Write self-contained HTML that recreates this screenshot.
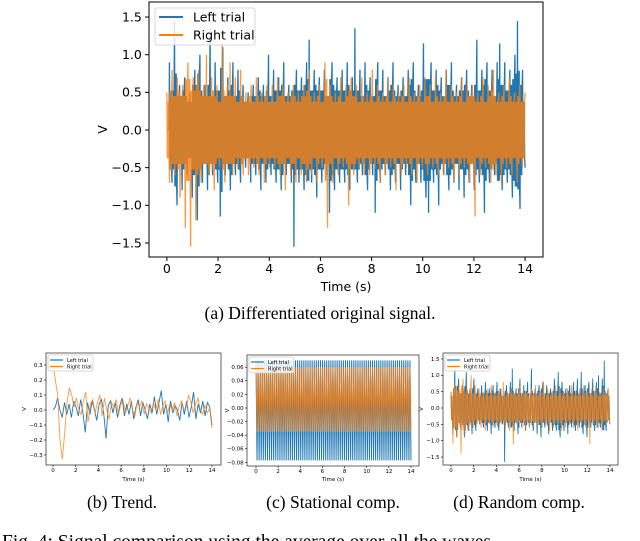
<!DOCTYPE html>
<html><head><meta charset="utf-8"><style>
body{margin:0;background:#fff;width:640px;height:541px;overflow:hidden}
svg{display:block}
.cap{font-family:"Liberation Serif",serif;fill:#000}
.tk{font-family:"DejaVu Sans","Liberation Sans",sans-serif;fill:#000}
</style></head><body>
<svg id="fig" width="640" height="541" viewBox="0 0 640 541" xmlns="http://www.w3.org/2000/svg">
<text class="cap" x="320" y="319" font-size="17.5" text-anchor="middle">(a) Differentiated original signal.</text>
<text class="cap" x="122" y="508" font-size="17.5" text-anchor="middle">(b) Trend.</text>
<text class="cap" x="333" y="508" font-size="17.5" text-anchor="middle">(c) Stational comp.</text>
<text class="cap" x="519" y="508" font-size="17.5" text-anchor="middle">(d) Random comp.</text>
<text class="cap" x="2" y="548" font-size="19.5">Fig. 4: Signal comparison using the average over all the waves</text>
</svg>
<script>
// main chart data
const mainBlue=[0,0.9,-0.7,1.45,-1.0,0.6,-0.8,0.7,-0.6,0.5,-0.9,0.8,-1.2,1.0,-0.7,0.6,-0.8,1.35,-0.6,0.9,-0.7,-1.15,1.1,-0.6,0.7,-0.8,0.9,-0.6,0.8,-0.7,0.6,-0.5,0.5,-0.7,0.6,-0.6,0.7,-0.8,0.6,-0.7,1.0,-0.6,0.8,-0.7,0.7,-0.8,0.9,-0.6,0.6,-0.7,-1.55,0.8,-0.7,0.7,-0.8,0.9,1.2,-0.7,0.8,-0.9,0.7,-0.7,0.8,-0.6,-1.1,0.9,-0.8,0.7,-0.7,0.8,-0.7,0.9,-0.8,0.7,1.35,-0.7,0.8,-0.6,0.9,-0.8,0.7,-0.6,-1.1,0.9,-0.7,0.8,-0.6,0.7,-0.8,0.9,-0.7,0.6,-0.8,0.7,-0.6,0.8,-1.0,0.9,-0.7,0.6,-0.7,1.15,-0.9,-1.1,0.9,-0.7,0.8,-1.0,0.7,-0.6,0.8,-0.8,0.9,-0.7,0.6,-0.8,0.7,-0.9,0.8,-0.7,0.6,-0.8,1.2,-0.7,0.8,-1.1,0.9,-0.7,0.8,-0.6,0.9,1.15,-0.8,0.9,-0.7,0.8,-0.9,1.0,1.45,-1.05,0.8,-0.5];
const mainOrange=[0.5,-0.7,0.8,-0.6,0.7,-0.9,0.6,-1.3,0.9,-1.55,0.7,-1.2,0.8,-0.7,0.6,1.0,-0.6,0.7,-0.8,0.6,-0.5,1.15,-0.7,0.6,0.9,-0.6,0.7,-0.5,0.8,-0.6,0.5,-0.6,0.6,-0.5,0.7,-0.6,0.5,-0.7,0.6,-0.5,0.6,-0.5,0.7,-0.6,0.6,-0.8,0.5,-0.6,0.6,-0.7,0.5,-0.6,0.6,-0.7,0.8,-0.6,0.5,-0.7,0.6,-0.5,0.9,-1.3,0.6,-0.7,0.5,-0.6,0.7,-0.5,0.6,-1.0,0.7,-0.6,0.6,-0.5,0.7,-0.6,0.5,-0.6,0.8,-0.5,0.6,-0.7,0.5,-0.6,0.7,-0.5,0.6,-0.8,0.5,-0.6,0.6,-0.5,0.7,-0.6,0.5,-0.7,0.6,-0.5,0.7,-0.6,0.6,-0.5,0.7,-0.6,0.5,-0.6,0.8,-0.5,0.6,-0.7,0.5,-0.6,0.7,-0.5,0.6,-0.7,0.6,-1.15,0.5,-0.6,0.7,-0.5,0.6,-0.7,0.8,-0.6,0.5,-0.7,0.6,-0.5,0.7,-0.6,0.5,-0.7,0.6,-0.5,0.5];
const mainYTicks=[1.5,1.0,0.5,0.0,-0.5,-1.0,-1.5];
const xTicks=[0,2,4,6,8,10,12,14];
// trend
const trendBlue=[0.0,0.02,0.08,0.0,-0.05,0.05,-0.03,0.04,-0.05,0.06,0.02,-0.04,0.07,-0.02,-0.15,0.05,-0.03,0.06,0.0,-0.07,0.04,0.07,-0.02,-0.19,0.03,0.06,-0.02,0.05,-0.05,0.03,0.08,-0.04,0.04,-0.03,0.06,-0.06,0.02,0.07,-0.04,0.05,0.0,-0.06,0.04,-0.02,0.09,-0.03,0.05,0.13,-0.03,0.04,-0.08,0.06,-0.02,0.03,0.0,-0.07,0.05,-0.03,0.06,-0.05,0.02,0.12,-0.06,0.04,-0.02,0.06,-0.04,0.05,0.02,-0.1];
const trendOrange=[0.3,0.2,0.1,-0.2,-0.33,-0.15,0.05,0.15,0.1,0.02,0.08,0.0,-0.03,0.06,0.12,-0.08,0.04,0.07,-0.02,0.05,0.1,-0.04,0.08,0.0,-0.06,0.05,0.02,0.07,-0.03,0.04,0.06,-0.02,0.03,0.08,0.0,-0.04,0.05,0.02,0.06,-0.03,0.04,0.01,-0.02,0.05,0.0,0.07,-0.03,0.03,0.06,-0.02,0.04,0.0,0.05,-0.04,0.03,0.06,0.0,0.02,0.1,0.05,-0.02,0.04,0.08,0.0,-0.03,0.03,-0.02,0.01,-0.12];
const trendYTicks=[0.3,0.2,0.1,0.0,-0.1,-0.2,-0.3];
// stational: one cycle shape, repeated
const statCycleBlue=[0.07,-0.077];
const statCycleOrange=[0.06,-0.035];
const statCycles=75;
const statYTicks=[0.06,0.04,0.02,0.00,-0.02,-0.04,-0.06,-0.08];
// random
const randBlue=[0.5,-0.8,1.2,-0.9,0.9,-0.6,0.7,-0.9,1.1,-0.7,0.6,-0.8,0.9,-0.7,0.6,-0.5,0.7,-0.6,0.8,-0.7,0.6,-0.8,0.7,-0.6,0.8,-0.7,0.6,-0.5,-1.65,0.7,-0.6,0.8,1.2,-0.7,0.6,-0.8,0.9,-0.6,0.7,-0.7,0.8,-0.6,1.2,-0.7,0.6,-0.8,0.7,-0.9,0.8,-0.6,0.7,-0.8,0.6,-0.7,0.9,-0.7,1.1,-0.9,0.8,-0.7,0.6,-0.8,0.7,-0.6,0.8,-0.7,0.9,-0.6,1.1,-0.8,0.7,-0.9,0.8,-0.6,0.9,-0.7,0.8,1.0,-0.6,0.9,1.45,-0.7,0.6,-0.5];
const randOrange=[0.5,-1.1,0.8,-0.9,0.7,-1.4,0.9,-0.8,0.6,-0.7,1.0,-0.6,0.7,-0.5,0.6,-0.6,0.5,-0.7,0.6,-0.5,0.7,-0.6,0.5,-0.6,0.6,-0.5,0.8,-0.6,0.5,-0.7,0.6,-1.1,0.5,-0.6,0.7,-0.5,0.6,-0.7,0.5,-0.6,0.6,-0.5,0.7,-0.6,0.5,-0.6,0.8,-0.5,0.6,-0.7,0.5,-0.6,0.7,-0.5,0.6,-0.7,0.5,-0.6,0.6,-0.5,0.7,-0.6,0.5,-0.7,0.6,-0.5,0.7,-0.6,0.5,-1.1,0.6,-0.5,0.7,-0.6,0.5,-0.7,0.6,-0.5,0.6,-0.5];
const randYTicks=[1.5,1.0,0.5,0.0,-0.5,-1.0,-1.5];

const NS="http://www.w3.org/2000/svg";
const fig=document.getElementById('fig');
function mk(tag,parent,attrs){const e=document.createElementNS(NS,tag);for(const k in attrs)e.setAttribute(k,attrs[k]);parent.appendChild(e);return e;}

function chart(name,cfg,blue,orange,yTicks,fmt){
  const g=mk('g',fig,{});
  
  
  const {L,R,T,B,x0,x14,y0,yk,fs,tl,leg}=cfg;
  const sx=t=>x0+(x14-x0)*t/14;
  const sy=v=>y0-v*yk;
  const clip=mk('clipPath',g,{id:name+'-clip'});
  mk('rect',clip,{x:L,y:T,width:R-L,height:B-T});
  function series(vals,color,op,sname){
    const n=vals.length;
    const k=cfg.fill||0;
    const pts=[];
    for(let i=0;i<n;i++){
      const t=i*14/(n-1);
      pts.push(sx(t).toFixed(2)+','+sy(vals[i]).toFixed(2));
      if(k&&i<n-1){
        const a=Math.min(Math.abs(vals[i]),Math.abs(vals[i+1]))*cfg.fillAmp;
        const s=vals[i]>=0?-1:1;
        for(let j=1;j<=k;j++){
          const tt=t+(14/(n-1))*j/(k+1);
          pts.push(sx(tt).toFixed(2)+','+sy(s*(j%2?1:-1)*a).toFixed(2));
        }
      }
    }
    const p=mk('polyline',g,{points:pts.join(' '),fill:'none',stroke:color,'stroke-width':cfg.sw,'stroke-opacity':op,'clip-path':'url(#'+name+'-clip)'});
    
    
  }
  series(blue,'#1f77b4',1,'left-trial-line');
  series(orange,'#ff7f0e',0.8,'right-trial-line');
  const frame=mk('rect',g,{x:L,y:T,width:R-L,height:B-T,fill:'none',stroke:'#000','stroke-width':cfg.fw});
  
  
  xTicks.forEach(t=>{
    mk('line',g,{x1:sx(t),x2:sx(t),y1:B,y2:B+tl,stroke:'#000','stroke-width':cfg.fw});
    const tx=mk('text',g,{x:sx(t),y:B+tl+fs*0.95,'font-size':fs,'text-anchor':'middle',class:'tk'});
    tx.textContent=t;
    
    
  });
  yTicks.forEach(v=>{
    mk('line',g,{x1:L-tl,x2:L,y1:sy(v),y2:sy(v),stroke:'#000','stroke-width':cfg.fw});
    const tx=mk('text',g,{x:L-tl-fs*0.25,y:sy(v)+fs*0.35,'font-size':fs,'text-anchor':'end',class:'tk'});
    tx.textContent=fmt(v);
    
    
  });
  const xl=mk('text',g,{x:(L+R)/2,y:cfg.xly,'font-size':fs,'text-anchor':'middle',class:'tk'});
  xl.textContent='Time (s)';
  
  
  const yl=mk('text',g,{x:cfg.ylx,y:(T+B)/2,'font-size':fs,'text-anchor':'middle',class:'tk',transform:'rotate(-90 '+cfg.ylx+' '+((T+B)/2)+')'});
  yl.textContent='V';
  
  
  const lg=mk('g',g,{});
  
  
  mk('rect',lg,{x:leg.x,y:leg.y,width:leg.w,height:leg.h,fill:'#fff','fill-opacity':0.8,stroke:'#ccc','stroke-width':0.8,rx:2});
  [['Left trial','#1f77b4',leg.r1],['Right trial','#ff7f0e',leg.r2]].forEach(([lab,c,yy])=>{
    mk('line',lg,{x1:leg.lx1,x2:leg.lx2,y1:yy,y2:yy,stroke:c,'stroke-width':leg.lw});
    const t=mk('text',lg,{x:leg.tx,y:yy+leg.fs*0.36,'font-size':leg.fs,class:'tk'});
    t.textContent=lab;
    
    
  });
}
const f1=v=>v.toFixed(1).replace('-','\u2212');
const f2=v=>v.toFixed(2).replace('-','\u2212');
chart('main-chart',{L:149,R:543,T:2,B:257,x0:166.9,x14:525.1,y0:130,yk:75.3,fs:12.5,tl:4,sw:1.3,fw:1,xly:291,ylx:107,fill:5,fillAmp:0.75,
  leg:{x:155,y:8,w:100,h:37,r1:17,r2:35,lx1:159,lx2:183,tx:193,fs:12.5,lw:2}},mainBlue,mainOrange,mainYTicks,f1);
chart('trend-chart',{L:46,R:221,T:353,B:465,x0:53,x14:212,y0:410,yk:150,fs:5.5,tl:2,sw:0.9,fw:0.6,xly:481,ylx:26,
  leg:{x:48,y:355,w:45,h:16,r1:360,r2:366.5,lx1:50,lx2:63,tx:67,fs:5,lw:1.2}},trendBlue,trendOrange,trendYTicks,f1);
const statBlue=[],statOrange=[];
for(let c=0;c<statCycles;c++){statBlue.push(...statCycleBlue);statOrange.push(...statCycleOrange);}
chart('stational-chart',{L:247,R:419,T:355,B:466,x0:256,x14:411,y0:408,yk:680,fs:5.5,tl:2,sw:1.0,fw:0.6,xly:481,ylx:229,
  leg:{x:249,y:357,w:45,h:16,r1:362,r2:368.5,lx1:251,lx2:264,tx:268,fs:5,lw:1.2}},statBlue,statOrange,statYTicks,f2);
chart('random-chart',{L:443,R:618,T:353,B:465,x0:451,x14:610,y0:408,yk:32.7,fs:5.5,tl:2,sw:0.9,fw:0.6,xly:481,ylx:423,fill:3,fillAmp:0.75,
  leg:{x:445,y:355,w:45,h:16,r1:360,r2:366.5,lx1:447,lx2:460,tx:464,fs:5,lw:1.2}},randBlue,randOrange,randYTicks,f1);
</script>
</body></html>
